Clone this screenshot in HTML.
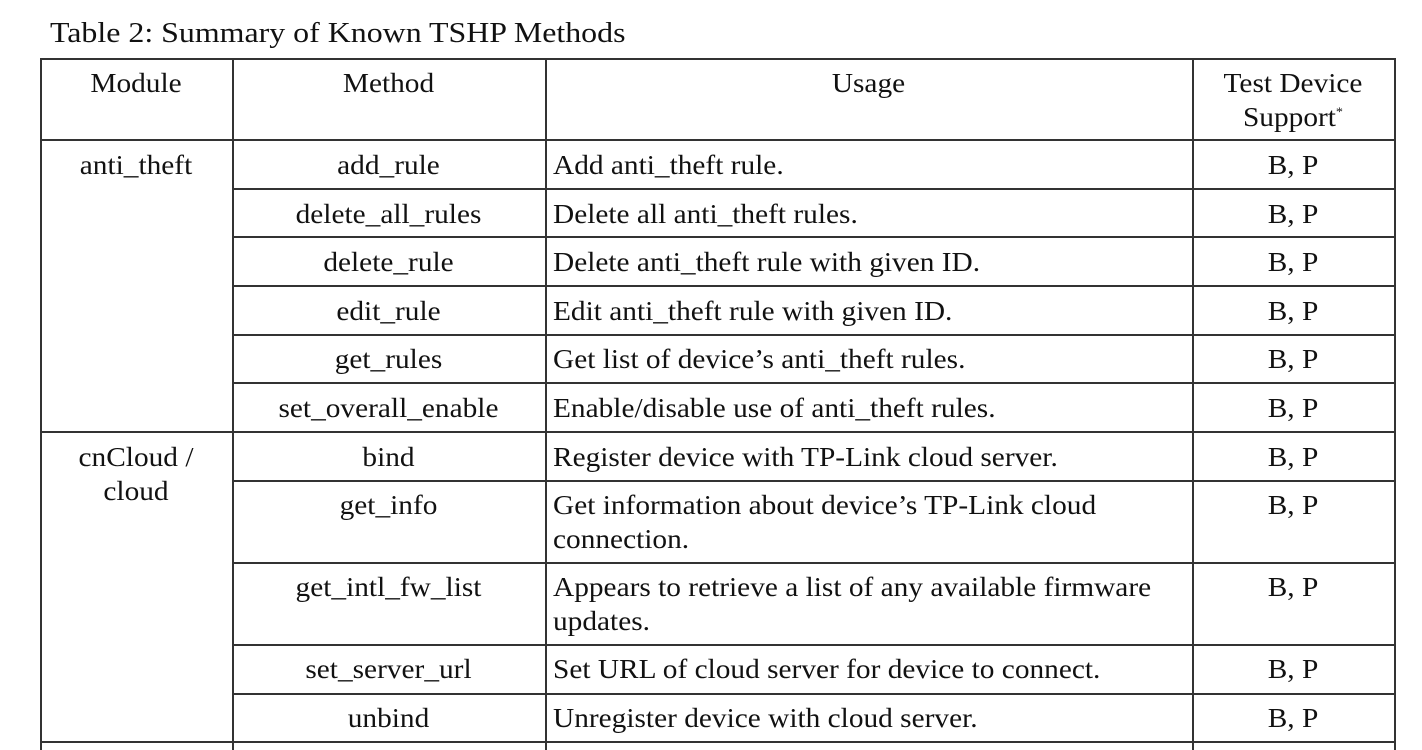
<!DOCTYPE html>
<html><head><style>
body{margin:0;width:1422px;height:750px;overflow:hidden;background:#fff;font-family:"Liberation Serif",serif;color:#111;position:relative}
.t{position:absolute;font-size:27px;line-height:34px;white-space:nowrap;transform:scaleX(1.087);transform-origin:left top}
.c{text-align:center;transform-origin:center top}
.h{position:absolute;height:1.5px;background:#333}
.v{position:absolute;width:1.5px;background:#333}
</style></head><body>
<div class="t" style="left:50px;top:16px;font-size:29px;transform:scaleX(1.1)">Table 2: Summary of Known TSHP Methods</div>
<div class="v" style="left:40px;top:58px;height:692px"></div>
<div class="v" style="left:232px;top:58px;height:692px"></div>
<div class="v" style="left:545px;top:58px;height:692px"></div>
<div class="v" style="left:1192px;top:58px;height:692px"></div>
<div class="v" style="left:1394px;top:58px;height:692px"></div>
<div class="h" style="left:40px;width:1356px;top:58px"></div>
<div class="h" style="left:40px;width:1356px;top:139px"></div>
<div class="h" style="left:232px;width:1164px;top:188px"></div>
<div class="h" style="left:232px;width:1164px;top:236px"></div>
<div class="h" style="left:232px;width:1164px;top:285px"></div>
<div class="h" style="left:232px;width:1164px;top:334px"></div>
<div class="h" style="left:232px;width:1164px;top:382px"></div>
<div class="h" style="left:40px;width:1356px;top:431px"></div>
<div class="h" style="left:232px;width:1164px;top:480px"></div>
<div class="h" style="left:232px;width:1164px;top:562px"></div>
<div class="h" style="left:232px;width:1164px;top:644px"></div>
<div class="h" style="left:232px;width:1164px;top:693px"></div>
<div class="h" style="left:40px;width:1356px;top:741px"></div>
<div class="t c" style="left:40px;width:192px;top:66px">Module</div>
<div class="t c" style="left:232px;width:313px;top:66px">Method</div>
<div class="t c" style="left:545px;width:647px;top:66px">Usage</div>
<div class="t c" style="left:1192px;width:202px;top:66px">Test Device<br>Support<sup style="font-size:13px;line-height:0">*</sup></div>
<div class="t c" style="left:40px;width:192px;top:148px">anti_theft</div>
<div class="t c" style="left:40px;width:192px;top:440px">cnCloud /<br>cloud</div>
<div class="t c" style="left:232px;width:313px;top:148px">add_rule</div>
<div class="t c" style="left:232px;width:313px;top:197px">delete_all_rules</div>
<div class="t c" style="left:232px;width:313px;top:245px">delete_rule</div>
<div class="t c" style="left:232px;width:313px;top:294px">edit_rule</div>
<div class="t c" style="left:232px;width:313px;top:342px">get_rules</div>
<div class="t c" style="left:232px;width:313px;top:391px">set_overall_enable</div>
<div class="t c" style="left:232px;width:313px;top:440px">bind</div>
<div class="t c" style="left:232px;width:313px;top:488px">get_info</div>
<div class="t c" style="left:232px;width:313px;top:570px">get_intl_fw_list</div>
<div class="t c" style="left:232px;width:313px;top:652px">set_server_url</div>
<div class="t c" style="left:232px;width:313px;top:701px">unbind</div>
<div class="t" style="left:553px;top:148px">Add anti_theft rule.</div>
<div class="t" style="left:553px;top:197px">Delete all anti_theft rules.</div>
<div class="t" style="left:553px;top:245px">Delete anti_theft rule with given ID.</div>
<div class="t" style="left:553px;top:294px">Edit anti_theft rule with given ID.</div>
<div class="t" style="left:553px;top:342px">Get list of device’s anti_theft rules.</div>
<div class="t" style="left:553px;top:391px">Enable/disable use of anti_theft rules.</div>
<div class="t" style="left:553px;top:440px">Register device with TP-Link cloud server.</div>
<div class="t" style="left:553px;top:488px">Get information about device’s TP-Link cloud<br>connection.</div>
<div class="t" style="left:553px;top:570px">Appears to retrieve a list of any available firmware<br>updates.</div>
<div class="t" style="left:553px;top:652px">Set URL of cloud server for device to connect.</div>
<div class="t" style="left:553px;top:701px">Unregister device with cloud server.</div>
<div class="t c" style="left:1192px;width:202px;top:148px">B, P</div>
<div class="t c" style="left:1192px;width:202px;top:197px">B, P</div>
<div class="t c" style="left:1192px;width:202px;top:245px">B, P</div>
<div class="t c" style="left:1192px;width:202px;top:294px">B, P</div>
<div class="t c" style="left:1192px;width:202px;top:342px">B, P</div>
<div class="t c" style="left:1192px;width:202px;top:391px">B, P</div>
<div class="t c" style="left:1192px;width:202px;top:440px">B, P</div>
<div class="t c" style="left:1192px;width:202px;top:488px">B, P</div>
<div class="t c" style="left:1192px;width:202px;top:570px">B, P</div>
<div class="t c" style="left:1192px;width:202px;top:652px">B, P</div>
<div class="t c" style="left:1192px;width:202px;top:701px">B, P</div>
</body></html>
